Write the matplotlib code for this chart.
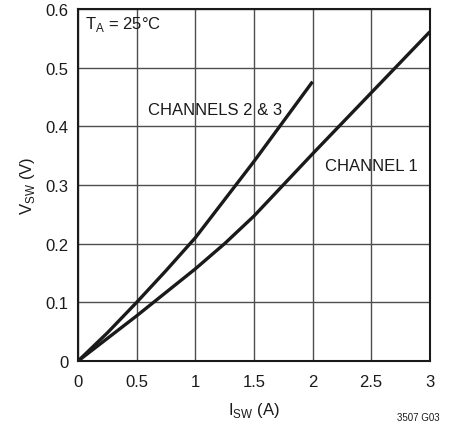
import matplotlib
matplotlib.use("Agg")
import matplotlib.pyplot as plt
from matplotlib import font_manager

# switch current (A) vs switch voltage (V)
i_ch23 = [0, 0.25, 0.5, 0.75, 1.0, 1.25, 1.5, 1.75, 2.0]
v_ch23 = [0, 0.048, 0.100, 0.154, 0.210, 0.275, 0.340, 0.408, 0.476]
i_ch1 = [0, 0.5, 1.0, 1.25, 1.5, 2.0, 2.5, 3.0]
v_ch1 = [0, 0.077, 0.157, 0.200, 0.247, 0.353, 0.457, 0.561]

x_ticks = [0, 0.5, 1, 1.5, 2, 2.5, 3]
x_tick_labels = ["0", "0.5", "1", "1.5", "2", "2.5", "3"]
y_ticks = [0, 0.1, 0.2, 0.3, 0.4, 0.5, 0.6]
y_tick_labels = ["0", "0.1", "0.2", "0.3", "0.4", "0.5", "0.6"]

names = {f.name for f in font_manager.fontManager.ttflist}
family = "Liberation Sans Narrow" if "Liberation Sans Narrow" in names else "Liberation Sans"
plt.rcParams["font.family"] = [family, "DejaVu Sans"]
plt.rcParams["mathtext.fontset"] = "custom"
plt.rcParams["mathtext.rm"] = family

fig = plt.figure(figsize=(4.51, 4.31), dpi=100)
ax = fig.add_axes([0.173, 0.160, 0.780, 0.817])

ax.plot(i_ch23, v_ch23, color="#1a1a1a", lw=2.4, solid_capstyle="butt")
ax.plot(i_ch1, v_ch1, color="#1a1a1a", lw=2.4, solid_capstyle="butt")

ax.set_xlim(0, 3)
ax.set_ylim(0, 0.6)
ax.set_xticks(x_ticks)
ax.set_xticklabels(x_tick_labels)
ax.set_yticks(y_ticks)
ax.set_yticklabels(y_tick_labels)
ax.tick_params(length=0, labelsize=12, colors="#1a1a1a")
ax.tick_params(axis="x", pad=9)
ax.tick_params(axis="y", pad=7)
ax.grid(True, color="#4d4d4d", lw=1.0)
for s in ax.spines.values():
    s.set_color("#1a1a1a")
    s.set_linewidth(1.5)

ax.text(0.06, 0.575, r"T$_\mathregular{A}$ = 25°C", fontsize=12, va="center", color="#1a1a1a")
ax.text(0.6, 0.428, "CHANNELS 2 & 3", fontsize=12, va="center", color="#1a1a1a")
ax.text(2.11, 0.333, "CHANNEL 1", fontsize=12, va="center", color="#1a1a1a")

ax.set_xlabel(r"I$_\mathregular{SW}$ (A)", fontsize=12, color="#1a1a1a", labelpad=8)
ax.set_ylabel(r"V$_\mathregular{SW}$ (V)", fontsize=12, color="#1a1a1a", labelpad=6)

fig.text(0.975, 0.018, "3507 G03", fontsize=7, ha="right", va="bottom", color="#1a1a1a")

fig.savefig("out.png", dpi=100, facecolor="white")
